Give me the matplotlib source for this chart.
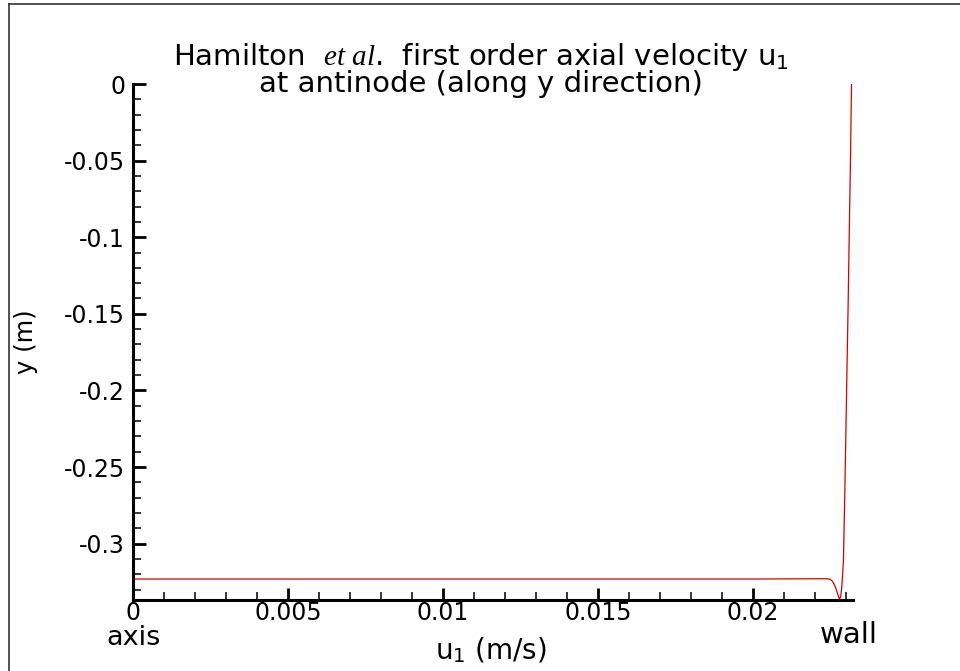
import matplotlib
matplotlib.use('Agg')
import matplotlib.pyplot as plt
from matplotlib.lines import Line2D
from matplotlib.ticker import FixedLocator, MultipleLocator

# Fonts: sans for text, serif italic for "et al"
plt.rcParams['font.family'] = ['DejaVu Sans']
plt.rcParams['mathtext.fontset'] = 'custom'
plt.rcParams['mathtext.rm'] = 'DejaVu Sans'
plt.rcParams['mathtext.it'] = 'Liberation Serif:italic'
plt.rcParams['mathtext.bf'] = 'DejaVu Sans:bold'

# Profile (u1 in m/s, y in m)
u_vals = [0.0, 0.0100, 0.0200, 0.02240, 0.02250, 0.02257, 0.02263, 0.02268,
          0.02273, 0.02277, 0.02280, 0.02284, 0.02287, 0.02290, 0.02293,
          0.02298, 0.02303, 0.02308, 0.02312, 0.02316, 0.02319]
y_vals = [-0.3231, -0.3231, -0.3231, -0.3229, -0.3233, -0.3245, -0.3265, -0.3290,
          -0.3320, -0.3345, -0.3362, -0.3345, -0.3295, -0.3210, -0.3110,
          -0.2600, -0.2017, -0.1450, -0.0933, -0.0450, 0.0]

x_ticks = [0.0, 0.005, 0.01, 0.015, 0.02]
x_tick_labels = ['0', '0.005', '0.01', '0.015', '0.02']
y_ticks = [0.0, -0.05, -0.1, -0.15, -0.2, -0.25, -0.3]
y_tick_labels = ['0', '-0.05', '-0.1', '-0.15', '-0.2', '-0.25', '-0.3']
x_range = (0.0, 0.02324)
y_range = (-0.3368, 0.0)

title_text = ('Hamilton  $\\mathit{et\\ al}$.  first order axial velocity u$_1$\n'
              'at antinode (along y direction)')

fig = plt.figure(figsize=(9.6, 6.71), dpi=100)
fig.patch.set_facecolor('white')
ax = fig.add_axes([0.1389, 0.1058, 0.7497, 0.769])

ax.plot(u_vals, y_vals, color='#d80000', linewidth=0.9, solid_joinstyle='round')

ax.set_xlim(*x_range)
ax.set_ylim(*y_range)

ax.xaxis.set_major_locator(FixedLocator(x_ticks))
ax.set_xticklabels(x_tick_labels)
ax.yaxis.set_major_locator(FixedLocator(y_ticks))
ax.set_yticklabels(y_tick_labels)
ax.xaxis.set_minor_locator(MultipleLocator(0.001))
ax.yaxis.set_minor_locator(MultipleLocator(0.01))

for side in ['top', 'right']:
    ax.spines[side].set_visible(False)
for side in ['left', 'bottom']:
    ax.spines[side].set_linewidth(2.2)

ax.tick_params(which='major', direction='in', length=9, width=2.0)
ax.tick_params(which='minor', direction='in', length=5.5, width=1.1)
ax.tick_params(axis='x', which='major', labelsize=17, pad=1)
ax.tick_params(axis='y', which='major', labelsize=17, pad=6)

ax.set_xlabel('u$_1$ (m/s)', fontsize=20)
ax.xaxis.set_label_coords(0.497, -0.068)
ax.set_ylabel('y (m)', fontsize=17.5)
ax.yaxis.set_label_coords(-0.132, 0.5)

# end labels under the x axis
ax.text(0.0, -0.0872, 'axis', fontsize=19.5, ha='center', va='baseline',
        transform=ax.get_xaxis_transform())
ax.text(0.994, -0.0835, 'wall', fontsize=21, ha='center', va='baseline',
        transform=ax.transAxes)

# two-line title, tight line spacing (baseline refers to the last line)
ax.text(0.483, 0.9845, title_text, fontsize=21, ha='center', va='baseline',
        linespacing=0.85, multialignment='center', transform=ax.transAxes)

# outer frame (top and left edges only visible)
fig.add_artist(Line2D([0.0095, 1.0], [0.994, 0.994], transform=fig.transFigure,
                      color='#333333', linewidth=1.2))
fig.add_artist(Line2D([0.0095, 0.0095], [0.0, 0.994], transform=fig.transFigure,
                      color='#333333', linewidth=1.2))

plt.savefig('out.png', dpi=100, facecolor='white')
